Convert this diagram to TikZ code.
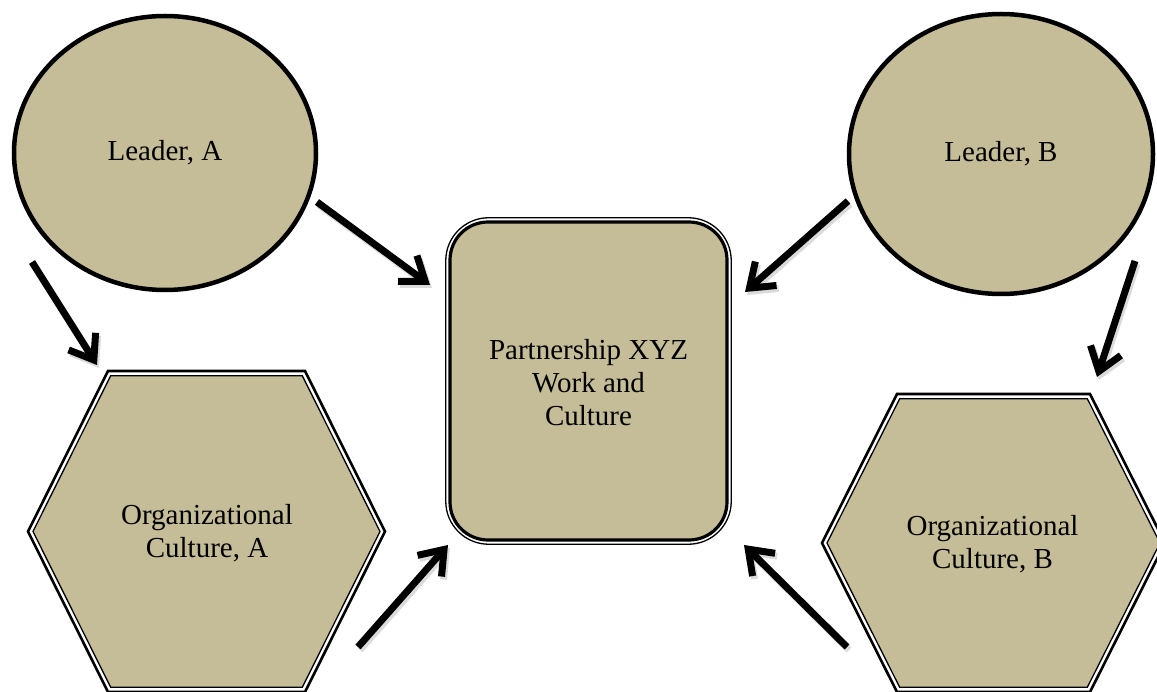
\documentclass[tikz,border=0pt]{standalone}
\usepackage{fontspec}
\setmainfont{Liberation Serif}
\usetikzlibrary{shapes.geometric,arrows.meta}
\definecolor{tanfill}{HTML}{C4BD97}
\begin{document}
\begin{tikzpicture}[x=1pt,y=-1pt,
  lbl/.style={font=\fontsize{29}{33}\selectfont, align=center, text=black},
  leader/.style={ellipse, draw=black, line width=4.5pt, fill=tanfill, lbl},
  hexout/.style={draw=black, line width=2.6pt, fill=white, line join=miter},
  hexin/.style={draw=black, line width=1.3pt, fill=tanfill, line join=miter},
  conn/.style={line width=7pt, draw=black, -{Straight Barb[length=22pt,width=32pt]}},
  shadowconn/.style={line width=7pt, draw=black!14, -{Straight Barb[length=22pt,width=32pt]}, transform canvas={xshift=2pt,yshift=-3pt}},
]
\useasboundingbox (0,0) rectangle (1157,692);
\clip (0,0) rectangle (1157,692);

% Leaders
\node[leader, minimum width=302pt, minimum height=274pt] (leadA) at (165,153) {Leader, A};
\node[leader, minimum width=304pt, minimum height=280pt] (leadB) at (1001,154) {Leader, B};

% Hexagon A
\path[hexout] (28,531.5) -- (108,371) -- (305,371) -- (385,531.5) -- (305,692) -- (108,692) -- cycle;
\path[hexin] (33,531.5) -- (110.7,375.7) -- (302.3,375.7) -- (380,531.5) -- (302.3,687.3) -- (110.7,687.3) -- cycle;
\node[lbl] (orgA) at (207,533) {Organizational\\Culture, A};

% Hexagon B
\path[hexout] (822,543) -- (897,394) -- (1090,394) -- (1165,543) -- (1090,692) -- (897,692) -- cycle;
\path[hexin] (827,543) -- (899.7,398.7) -- (1087.3,398.7) -- (1160,543) -- (1087.3,687.3) -- (899.7,687.3) -- cycle;
\node[lbl] (orgB) at (992.5,544) {Organizational\\Culture, B};

% Partnership box
\node[rectangle, rounded corners=43pt, draw=black, line width=1.3pt, fill=white,
      minimum width=285.5pt, minimum height=326.5pt] (pout) at (588.5,381) {};
\node[rectangle, rounded corners=38pt, draw=black, line width=3.2pt, fill=tanfill,
      minimum width=277pt, minimum height=318pt] (pbox) at (588.5,381) {};
\node[lbl] (pxyz) at (588.5,383) {Partnership XYZ\\Work and\\Culture};

% Arrow end points
\coordinate (a1s) at (317,202); \coordinate (a1e) at (430,285);
\coordinate (a2s) at (32,262);  \coordinate (a2e) at (97,365);
\coordinate (a3s) at (848,201); \coordinate (a3e) at (745,292);
\coordinate (a4s) at (1135,261); \coordinate (a4e) at (1097,377);
\coordinate (a5s) at (358,647); \coordinate (a5e) at (448,545);
\coordinate (a6s) at (847,647); \coordinate (a6e) at (744,545);

\foreach \i in {1,...,6} {
  \draw[shadowconn] (a\i s) -- (a\i e);
}
\foreach \i in {1,...,6} {
  \draw[conn] (a\i s) -- (a\i e);
}
\end{tikzpicture}
\end{document}
